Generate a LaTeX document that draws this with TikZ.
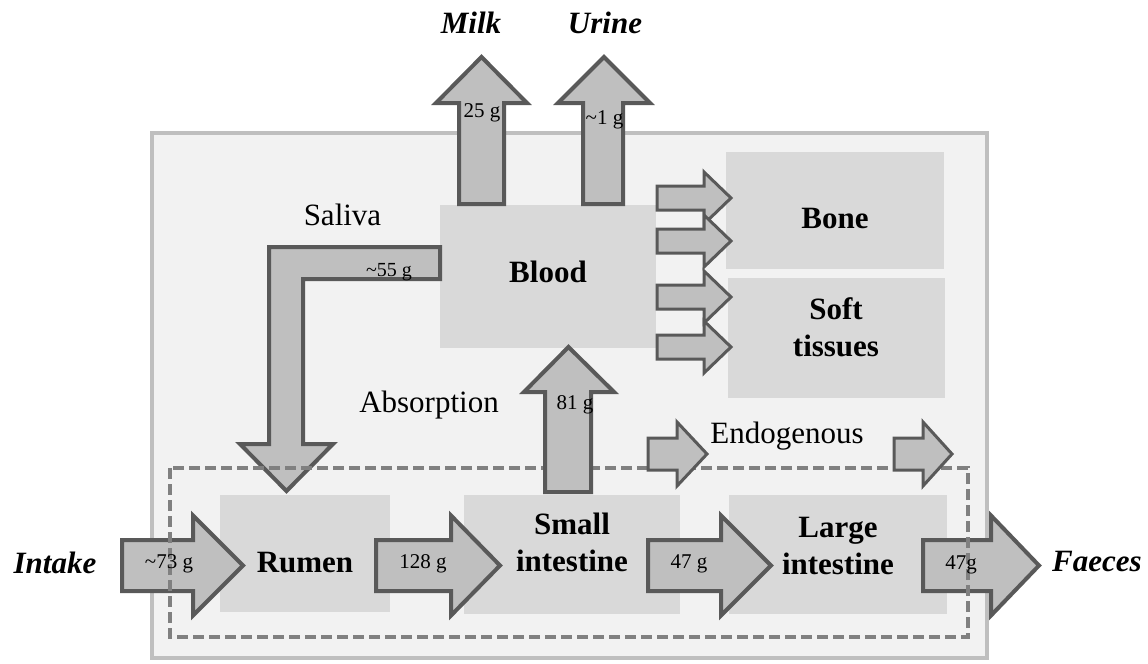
\documentclass[tikz,border=0pt]{standalone}
\usepackage{fontspec}
\setmainfont{Liberation Serif}
\definecolor{panelfill}{RGB}{242,242,242}
\definecolor{panelline}{RGB}{191,191,191}
\definecolor{organfill}{RGB}{217,217,217}
\definecolor{flowfill}{RGB}{191,191,191}
\definecolor{flowline}{RGB}{89,89,89}
\definecolor{gutline}{RGB}{128,128,128}

\begin{document}
\begin{tikzpicture}[x=0.5pt,y=-0.5pt,
    panel/.style={fill=panelfill,draw=panelline,line width=2pt},
    organ/.style={fill=organfill,inner sep=0pt},
    organtext/.style={inner sep=0pt,align=center,font=\fontsize{15.5}{18.5}\selectfont\bfseries},
    flow/.style={fill=flowfill,draw=flowline,line width=2pt},
    thinflow/.style={flow,line width=1.5pt},
    gut/.style={draw=gutline,line width=1.8pt,dash pattern=on 5.5pt off 2.5pt},
    amount/.style={inner sep=0pt,font=\fontsize{10.5}{12}\selectfont},
    caption/.style={inner sep=0pt,font=\fontsize{15.5}{18.5}\selectfont},
    route/.style={inner sep=0pt,font=\fontsize{15.5}{18.5}\selectfont\bfseries\itshape}]
    \useasboundingbox (0,0) rectangle (1148,664);
    % animal
    \draw[panel] (152,133) rectangle (987,658);
    % pools
    \node[organ,minimum width=108pt,minimum height=71.5pt] (blood) at (548,276.5) {};
    \node[organ,minimum width=109pt,minimum height=58.5pt] (bone) at (835,210.5) {};
    \node[organ,minimum width=108.5pt,minimum height=60pt] (soft) at (836.5,338) {};
    \node[organ,minimum width=85pt,minimum height=58.5pt] (rumen) at (305,553.5) {};
    \node[organ,minimum width=108pt,minimum height=59.5pt] (smallint) at (572,554.5) {};
    \node[organ,minimum width=109pt,minimum height=59.5pt] (largeint) at (838,554.5) {};
    % outputs from blood
    \draw[flow] (459,204) -- (459,103) -- (436,103) -- (481.5,57) -- (527,103) -- (504,103) -- (504,204) -- cycle;
    \draw[flow] (583,204) -- (583,103) -- (558,103) -- (604,57) -- (650,103) -- (623,103) -- (623,204) -- cycle;
    \draw[thinflow] (657,186) -- (704,186) -- (704,172) -- (731,198) -- (704,224) -- (704,210) -- (657,210) -- cycle;
    \draw[thinflow] (657,229) -- (704,229) -- (704,215) -- (731,241) -- (704,267) -- (704,253) -- (657,253) -- cycle;
    \draw[thinflow] (657,285) -- (704,285) -- (704,271) -- (731,297) -- (704,323) -- (704,309) -- (657,309) -- cycle;
    \draw[thinflow] (657,335) -- (704,335) -- (704,321) -- (731,347) -- (704,373) -- (704,359) -- (657,359) -- cycle;
    % saliva
    \draw[flow] (440,247) -- (269,247) -- (269,444) -- (240,444) -- (286.5,491) -- (333,444) -- (303,444) -- (303,279) -- (440,279) -- cycle;
    % passage through the gut
    \draw[flow] (122,540) -- (193,540) -- (193,515.5) -- (243,565.5) -- (193,615.5) -- (193,591) -- (122,591) -- cycle;
    \draw[flow] (376,540) -- (451,540) -- (451,515.5) -- (500,565.5) -- (451,615.5) -- (451,591) -- (376,591) -- cycle;
    \draw[flow] (648,540) -- (721,540) -- (721,515.5) -- (771,565.5) -- (721,615.5) -- (721,591) -- (648,591) -- cycle;
    \draw[flow] (923,540) -- (991,540) -- (991,515.5) -- (1039,565.5) -- (991,615.5) -- (991,591) -- (923,591) -- cycle;
    \draw[gut] (170,468) rectangle (968,637);
    % absorption and endogenous losses
    \draw[flow] (545,492) -- (545,392) -- (524,392) -- (568.5,347) -- (614,392) -- (591,392) -- (591,492) -- cycle;
    \draw[thinflow] (648,438) -- (677,438) -- (677,422) -- (707,454) -- (677,486) -- (677,470) -- (648,470) -- cycle;
    \draw[thinflow] (894,438) -- (923,438) -- (923,422) -- (952,454) -- (923,486) -- (923,470) -- (894,470) -- cycle;
    % labels
    \node[organtext,anchor=base] (bloodtext) at (548,282) {Blood};
    \node[organtext,anchor=base] (bonetext) at (835,228) {Bone};
    \node[organtext] (softtext) at (836,327) {Soft\\tissues};
    \node[organtext,anchor=base] (rumentext) at (305,572) {Rumen};
    \node[organtext] (smallinttext) at (572,542) {Small\\intestine};
    \node[organtext] (largeinttext) at (838,546) {Large\\intestine};
    \node[route,anchor=base] (milk) at (471,33) {Milk};
    \node[route,anchor=base] (urine) at (605,33) {Urine};
    \node[route,anchor=base] (intake) at (55,573) {Intake};
    \node[route,anchor=base] (faeces) at (1097,571) {Faeces};
    \node[caption,anchor=base] (saliva) at (342.5,225) {Saliva};
    \node[caption,anchor=base] (absorption) at (429,412) {Absorption};
    \node[caption,anchor=base] (endogenous) at (787,443) {Endogenous};
    \node[amount,anchor=base] (milkg) at (482,118) {25 g};
    \node[amount,anchor=base] (urineg) at (604.5,124) {\textasciitilde1 g};
    \node[amount,anchor=base,font=\fontsize{10}{12}\selectfont] (salivag) at (389,276) {\textasciitilde55 g};
    \node[amount,anchor=base] (absorptiong) at (575,409) {81 g};
    \node[amount,anchor=base] (intakeg) at (169,568) {\textasciitilde73 g};
    \node[amount,anchor=base] (rumeng) at (423,568) {128 g};
    \node[amount,anchor=base] (smallintg) at (689,568) {47 g};
    \node[amount,anchor=base] (faecesg) at (961,569) {47g};
\end{tikzpicture}
\end{document}
